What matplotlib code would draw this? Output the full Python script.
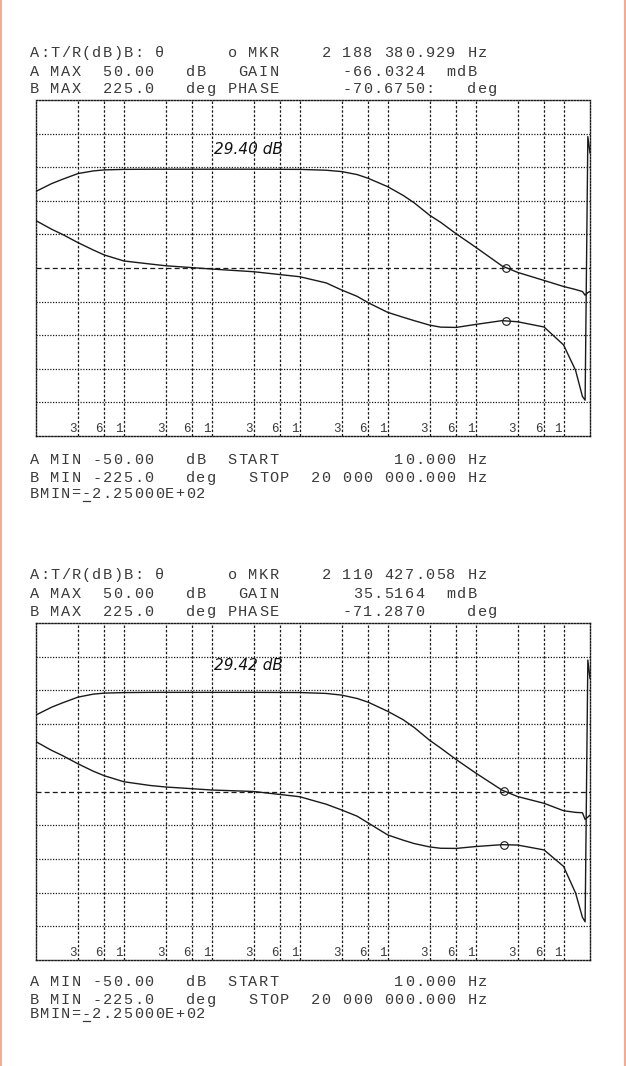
import matplotlib.pyplot as plt
from matplotlib.lines import Line2D
from matplotlib.ticker import NullLocator
from matplotlib.transforms import blended_transform_factory, offset_copy

W, H = 626, 1066

# sweep points (Hz), shared by both traces
freq = [10, 15, 20, 30, 45, 60, 100, 200, 300, 1e3, 3e3, 1e4, 2e4, 3e4, 4.5e4, 6e4, 1e5, 1.5e5,
        2e5, 3e5, 4e5, 6e5, 1e6, 2e6, 3e6, 6e6, 1e7, 1.37e7, 1.64e7, 1.76e7, 1.89e7, 2e7]

# first sweep
gain_1 = [22.8, 25.1, 26.4, 28.1, 28.9, 29.2, 29.35, 29.4, 29.4, 29.4, 29.4, 29.35, 29.1, 28.7, 27.8,
          26.7, 24.2, 21.6, 19.4, 15.7, 13.6, 10.2, 6.2, 0.6, -1.3, -3.7, -5.5, -6.4, -7.0, -8.1, -7.3, -7.0]
phase_1 = [63.4, 52, 45, 34, 24, 17.4, 9.4, 5.3, 3, -1.4, -5, -11.7, -20, -29.5, -38,
           -46.5, -59.4, -66, -70.5, -76.5, -79.2, -79.6, -75.6, -70.5, -72, -79, -103, -137, -172, -177, 176, 154]

# second sweep
gain_2 = [22.7, 25.0, 26.3, 28.0, 28.9, 29.2, 29.35, 29.42, 29.42, 29.42, 29.42, 29.37, 29.1, 28.6, 27.6,
          26.5, 23.8, 21.3, 19.0, 15.2, 12.9, 9.5, 5.5, 0.4, -1.5, -3.5, -5.7, -6.2, -6.3, -8.3, -7.6, -7.0]
phase_2 = [66.5, 55, 48, 37, 27, 21, 13, 8, 6, 2, 0, -7, -17, -24.7, -33,
           -42, -58, -65, -69.5, -74, -75.8, -76, -73.5, -71.0, -71.5, -78, -100, -135.5, -168, -174, 175.6, 151]

# marker readouts
mkr_f = [2188380.929, 2110427.058]
mkr_gain = [-0.0660324, 0.0355164]
mkr_phase = [-70.675, -71.287]

notes = ["29.40 dB", "29.42 dB"]

grid_freqs = [30, 60, 100, 300, 600, 1e3, 3e3, 6e3, 1e4, 3e4, 6e4, 1e5, 3e5, 6e5, 1e6, 3e6, 6e6, 1e7]
grid_labels = ["3", "6", "1"] * 6

head_1 = ["A:T/R(dB)B: \u03b8      o MKR    2 188 380.929 Hz",
          "A MAX  50.00   dB   GAIN      -66.0324  mdB",
          "B MAX  225.0   deg PHASE      -70.6750:   deg"]
head_2 = ["A:T/R(dB)B: \u03b8      o MKR    2 110 427.058 Hz",
          "A MAX  50.00   dB   GAIN       35.5164  mdB",
          "B MAX  225.0   deg PHASE      -71.2870    deg"]
foot = ["A MIN -50.00   dB  START           10.000 Hz",
        "B MIN -225.0   deg   STOP  20 000 000.000 Hz",
        "BMIN=-2.25000E+02"]

INK = "#1a1a1a"
TXT = "#3a3a3a"
MONO = ["Liberation Mono", "DejaVu Sans Mono"]
PITCH = 10.42  # plotter character cell, px
X0 = 29

fig = plt.figure(figsize=(W / 100, H / 100), dpi=100)


def put(ypx, s):
    # plotter text sits on a fixed character grid
    for i, ch in enumerate(s):
        if ch == " ":
            continue
        fig.text((X0 + (i + 0.5) * PITCH) / W, 1 - ypx / H, ch, family=MONO, fontsize=11,
                 color=TXT, va="center", ha="center")


def panel(top, bottom, gain, phase, k, head, rows, note_y):
    ax = fig.add_axes([36 / W, 1 - bottom / H, 554 / W, (bottom - top) / H])
    ax.set_xscale("log")
    ax.set_xlim(10, 2e7)
    ax.set_ylim(-50, 50)
    ax.xaxis.set_major_locator(NullLocator())
    ax.xaxis.set_minor_locator(NullLocator())
    ax.set_yticks([])
    for s in ax.spines.values():
        s.set_linestyle((0, (1, 1.2)))
        s.set_linewidth(1.0)
        s.set_color(INK)

    for y in range(-40, 50, 10):
        if y == 0:
            ax.axhline(y, color=INK, lw=0.9, ls=(0, (4, 2.5)))
        else:
            ax.axhline(y, color=INK, lw=0.9, ls=(0, (1, 1.2)))
    tr = offset_copy(blended_transform_factory(ax.transData, ax.transAxes), fig=fig, x=-1.5, y=1.5, units="dots")
    for f, lab in zip(grid_freqs, grid_labels):
        ax.axvline(f, color=INK, lw=0.9, ls=(0, (2, 1.5)))
        ax.text(f, 0.0, lab, transform=tr, ha="right", va="bottom",
                family=MONO, fontsize=9, color=TXT)

    ax2 = ax.twinx()
    ax2.set_ylim(-225, 225)
    ax2.set_yticks([])
    for s in ax2.spines.values():
        s.set_visible(False)

    ax.plot(freq, gain, color=INK, lw=1.0)
    ax2.plot(freq, phase, color=INK, lw=1.0)
    ax.plot(mkr_f[k], mkr_gain[k], "o", ms=5.5, mfc="none", mec=INK, mew=0.8)
    ax2.plot(mkr_f[k], mkr_phase[k], "o", ms=5.5, mfc="none", mec=INK, mew=0.8)

    fig.text(248 / W, 1 - note_y / H, notes[k], fontsize=11, style="italic",
             color="#111111", ha="center", va="center", family="DejaVu Sans")

    for yy, s in zip(rows[:3], head):
        put(yy, s)
    for yy, s in zip(rows[3:], foot):
        put(yy, s)
    # underline under the BMIN minus sign
    ux = X0 + 5 * PITCH
    uy = 1 - (rows[5] + 7) / H
    fig.add_artist(Line2D([(ux + 2) / W, (ux + 8.5) / W], [uy, uy], color=TXT, lw=0.9))


panel(100, 436, gain_1, phase_1, 0, head_1, [53, 71.5, 89, 460, 478, 493.5], 150)
panel(623, 960, gain_2, phase_2, 1, head_2, [575, 593.5, 611.5, 981.5, 1000, 1014], 666)

# orange scan border on the sides
fig.add_artist(Line2D([0.8 / W, 0.8 / W], [0, 1], color="#f5ab92", lw=1.5))
fig.add_artist(Line2D([1 - 1.0 / W, 1 - 1.0 / W], [0, 1], color="#f5ab92", lw=1.5))

fig.savefig("out.png", dpi=100)
